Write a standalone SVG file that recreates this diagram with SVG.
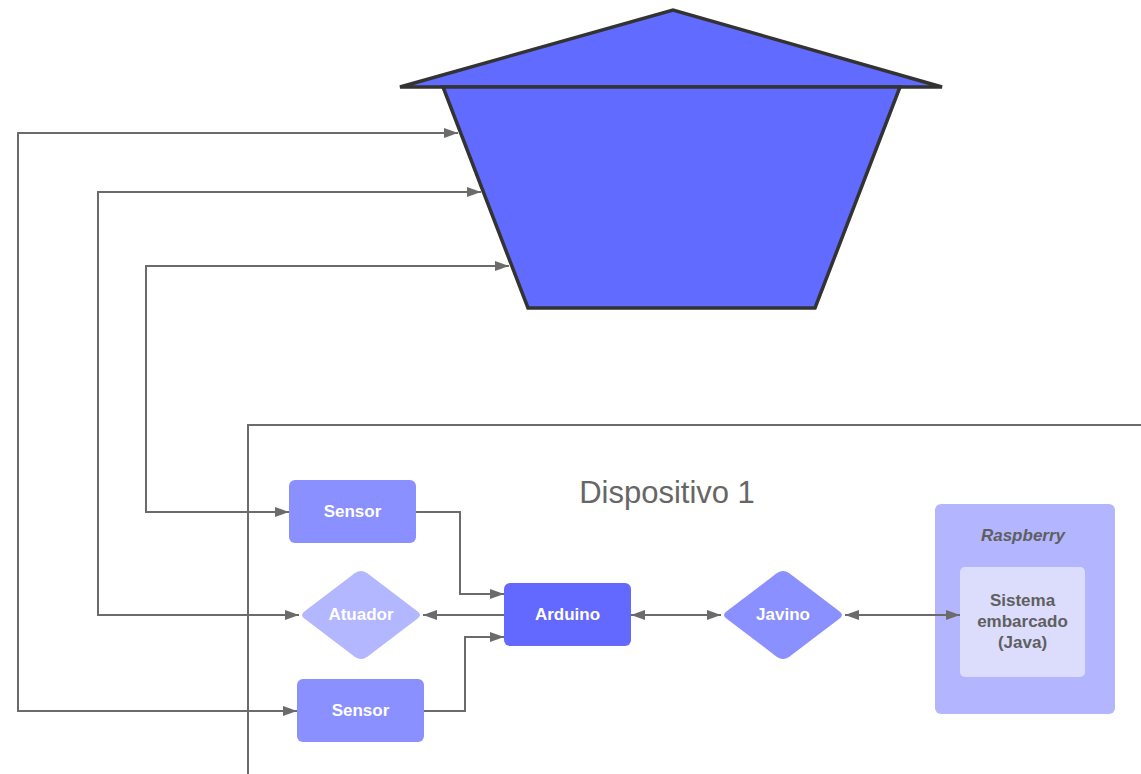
<svg xmlns="http://www.w3.org/2000/svg" width="1141" height="774" viewBox="0 0 1141 774">
<style>
.conn{fill:none;stroke:#6b6b6b;stroke-width:2}
.lbl{font-family:"Liberation Sans",Arial,sans-serif;font-weight:bold;font-size:17px;text-anchor:middle;fill:#ffffff}
.dark{fill:#5f5f5f}
</style>
<defs>
<marker id="arr" markerUnits="userSpaceOnUse" markerWidth="14" markerHeight="10" refX="14" refY="5" orient="auto-start-reverse" viewBox="0 0 14 10">
<path d="M0,0 L14,5 L0,10 z" fill="#6b6b6b"/>
</marker>
</defs>
<rect width="1141" height="774" fill="#ffffff"/>
<g id="tank">
<polygon points="400,87 673,10 942,87" fill="#626bff" stroke="#333333" stroke-width="3.5" stroke-linejoin="miter"/>
<polygon points="443,87 900,87 815,308 528,308" fill="#626bff" stroke="#333333" stroke-width="3.5"/>
</g>
<g id="dispositivo">
<path d="M248,774 L248,425 L1141,425" fill="none" stroke="#6b6b6b" stroke-width="2"/>
<text x="667" y="503" font-family="'Liberation Sans',Arial,sans-serif" font-size="31" text-anchor="middle" fill="#666666">Dispositivo 1</text>
</g>
<g id="sensor1">
<rect x="289" y="480" width="127" height="63" rx="6" fill="#8a90ff"/>
<text class="lbl" x="352.5" y="517">Sensor</text>
</g>
<g id="atuador">
<path d="M355,573 Q361,569 367,573 L417,611 Q423,615 417,619 L367,657 Q361,661 355,657 L305,619 Q299,615 305,611 Z" fill="#b3b7ff"/>
<text class="lbl" x="361" y="620">Atuador</text>
</g>
<g id="sensor2">
<rect x="297" y="679" width="127" height="63" rx="6" fill="#8a90ff"/>
<text class="lbl" x="360.5" y="716">Sensor</text>
</g>
<g id="arduino">
<rect x="504" y="583" width="127" height="63" rx="6" fill="#6368ff"/>
<text class="lbl" x="567.5" y="620">Arduino</text>
</g>
<g id="javino">
<path d="M777,573 Q783,569 789,573 L839,611 Q845,615 839,619 L789,657 Q783,661 777,657 L727,619 Q721,615 727,611 Z" fill="#8a90ff"/>
<text class="lbl" x="783" y="620">Javino</text>
</g>
<g id="raspberry">
<rect x="935" y="504" width="180" height="210" rx="6" fill="#b3b6ff"/>
<text class="lbl dark" x="1023" y="541" font-style="italic">Raspberry</text>
</g>
<g id="sistema">
<rect x="960" y="567" width="125" height="110" rx="5" fill="#dcdcfc"/>
<text class="lbl dark" x="1022.5" y="606">Sistema</text>
<text class="lbl dark" x="1022.5" y="627">embarcado</text>
<text class="lbl dark" x="1022.5" y="648">(Java)</text>
</g>
<g id="connectors">
<path class="conn" d="M297,711 L18,711 L18,133 L458,133" marker-start="url(#arr)" marker-end="url(#arr)"/>
<path class="conn" d="M299,615 L98,615 L98,192 L481,192" marker-start="url(#arr)" marker-end="url(#arr)"/>
<path class="conn" d="M289,512 L146,512 L146,266 L509,266" marker-start="url(#arr)" marker-end="url(#arr)"/>
<path class="conn" d="M416,512 L460,512 L460,594 L504,594" marker-end="url(#arr)"/>
<path class="conn" d="M424,711 L465,711 L465,637 L504,637" marker-end="url(#arr)"/>
<path class="conn" d="M504,615 L423,615" marker-end="url(#arr)"/>
<path class="conn" d="M631,615 L721,615" marker-start="url(#arr)" marker-end="url(#arr)"/>
<path class="conn" d="M845,615 L960,615" marker-start="url(#arr)" marker-end="url(#arr)"/>
</g>
</svg>
